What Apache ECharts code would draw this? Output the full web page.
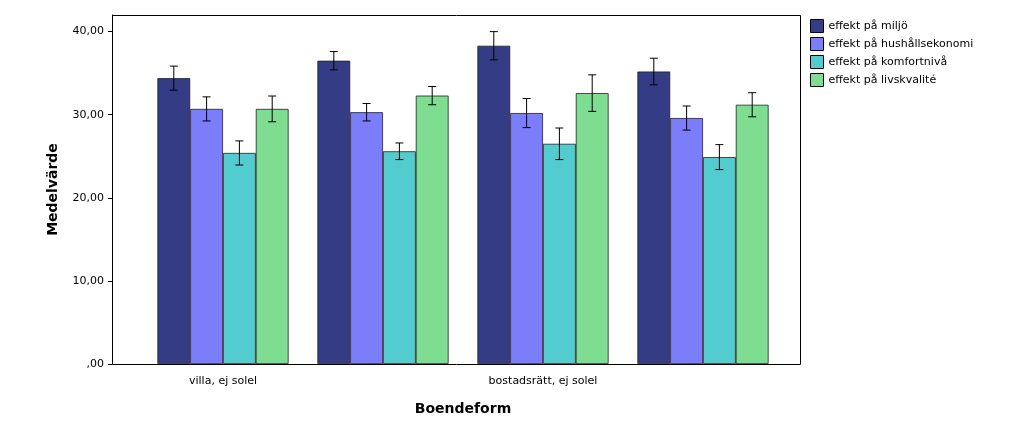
<!DOCTYPE html>
<html><head><meta charset="utf-8">
<script src="https://cdn.jsdelivr.net/npm/echarts@6/dist/echarts.min.js"></script>
<style>html,body{margin:0;background:#fff}#c{width:1024px;height:436px}</style>
</head><body><div id="c"></div>
<script>
const categories = ['villa, ej solel','villa, med solel','bostadsrätt, ej solel','bostadsrätt, med solel'];
const seriesNames = ['effekt på miljö','effekt på hushållsekonomi','effekt på komfortnivå','effekt på livskvalité'];
const colors = ['#333c85','#7b7dfb','#52cccf','#7edd90'];
const miljo = [34.4, 36.5, 38.3, 35.2];
const hushall = [30.7, 30.3, 30.2, 29.6];
const komfort = [25.4, 25.6, 26.5, 24.9];
const livs = [30.7, 32.3, 32.6, 31.2];
const errMiljo = [1.45, 1.1, 1.7, 1.6];
const errHushall = [1.45, 1.05, 1.75, 1.45];
const errKomfort = [1.45, 1.0, 1.9, 1.5];
const errLivs = [1.55, 1.1, 2.2, 1.45];
const values = [miljo, hushall, komfort, livs];
const errs = [errMiljo, errHushall, errKomfort, errLivs];
const BW = 0.205;
const font = 'DejaVu Sans';
const series = [];
values.forEach((v, i) => {
  series.push({name: seriesNames[i], type: 'bar', data: v, barWidth: (BW*100)+'%', barGap: '0%',
    itemStyle: {color: colors[i], borderColor: '#222', borderWidth: 0.8}});
});
values.forEach((v, i) => {
  series.push({type: 'custom', silent: true, z: 10,
    data: v.map((m, k) => [k, m - errs[i][k], m + errs[i][k]]),
    renderItem: (params, api) => {
      const band = api.size([1, 0])[0];
      const off = (i - 1.5) * band * BW;
      const lo = api.coord([api.value(0), api.value(1)]);
      const hi = api.coord([api.value(0), api.value(2)]);
      const x = lo[0] + off, w = 4;
      const st = {stroke: '#000', lineWidth: 1};
      return {type: 'group', children: [
        {type: 'line', shape: {x1: x, y1: lo[1], x2: x, y2: hi[1]}, style: st},
        {type: 'line', shape: {x1: x-w, y1: lo[1], x2: x+w, y2: lo[1]}, style: st},
        {type: 'line', shape: {x1: x-w, y1: hi[1], x2: x+w, y2: hi[1]}, style: st}
      ]};
    }});
});
const chart = echarts.init(document.getElementById('c'));
chart.setOption({
  animation: false,
  textStyle: {fontFamily: font},
  grid: {left: 143, right: 241, top: 15, bottom: 72},
  graphic: [{type: 'rect', shape: {x: 112.5, y: 15.5, width: 688, height: 349}, style: {fill: 'none', stroke: '#000', lineWidth: 1}, z: 100}],
  legend: {orient: 'vertical', left: 805, top: 14, itemGap: 4, itemWidth: 13, itemHeight: 13,
    icon: 'rect', textStyle: {fontSize: 11, color: '#000', fontFamily: font},
    itemStyle: {borderColor: '#000', borderWidth: 1},
    data: seriesNames},
  xAxis: {type: 'category', data: categories, name: 'Boendeform', nameLocation: 'middle', nameGap: 38,
    nameTextStyle: {fontSize: 14, fontWeight: 'bold', color: '#000'},
    axisTick: {show: false},
    axisLine: {show: false},
    axisLabel: {color: '#000', fontSize: 11, margin: 12}},
  yAxis: {type: 'value', min: 0, max: 42, interval: 10, offset: 31, name: 'Medelvärde', nameLocation: 'middle', nameGap: 52,
    nameTextStyle: {fontSize: 14, fontWeight: 'bold', color: '#000'},
    splitLine: {show: false},
    axisLine: {show: true, lineStyle: {color: '#000'}},
    axisTick: {show: true, length: 4},
    axisLabel: {color: '#000', fontSize: 11, showMaxLabel: false, formatter: v => v === 0 ? ',00' : v.toFixed(2).replace('.', ',')}},
  series: series
});
</script></body></html>
